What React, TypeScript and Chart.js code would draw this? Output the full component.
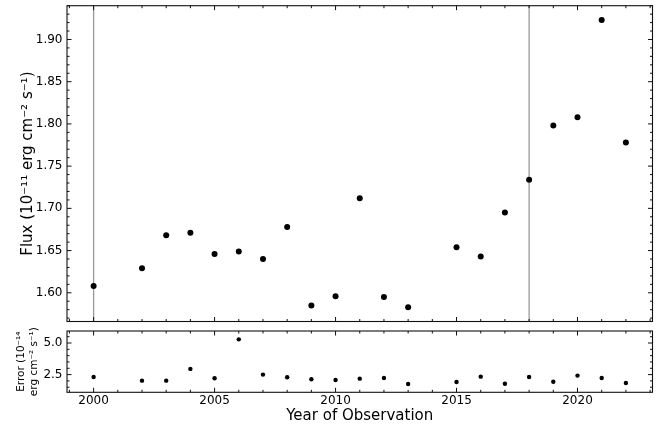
import React, { useEffect, useRef } from 'react';
import { Chart, registerables } from 'chart.js';

Chart.register(...registerables);

// ---- data ----
const years = [2000, 2002, 2003, 2004, 2005, 2006, 2007, 2008, 2009, 2010, 2011, 2012, 2013, 2015, 2016, 2017, 2018, 2019, 2020, 2021, 2022];
const flux = [1.608, 1.629, 1.668, 1.671, 1.646, 1.649, 1.640, 1.678, 1.585, 1.596, 1.712, 1.595, 1.583, 1.654, 1.643, 1.695, 1.734, 1.798, 1.808, 1.923, 1.778];
const fluxError = [2.31, 2.02, 2.02, 2.95, 2.21, 5.29, 2.50, 2.29, 2.13, 2.07, 2.18, 2.23, 1.76, 1.91, 2.34, 1.78, 2.31, 1.94, 2.42, 2.23, 1.84];
const markerYears = [2000, 2018];
const xTickLabels = [2000, 2005, 2010, 2015, 2020];
const fluxTickLabels = [1.6, 1.65, 1.7, 1.75, 1.8, 1.85, 1.9];
const errorTickLabels = [2.5, 5.0];
const errorRange = [1.1, 5.95];

const FONT = 'DejaVu Sans';

function withMargin(vals: number[]): [number, number] {
  const mn = Math.min(...vals);
  const mx = Math.max(...vals);
  const r = mx - mn;
  return [mn - 0.05 * r, mx + 0.05 * r];
}

const [xMin, xMax] = withMargin(years);
const [fMin, fMax] = withMargin(flux);

function minorValues(min: number, max: number, step: number): number[] {
  const out: number[] = [];
  const start = Math.ceil(min / step - 1e-9);
  const end = Math.floor(max / step + 1e-9);
  for (let i = start; i <= end; i++) out.push(+(i * step).toFixed(6));
  return out;
}

function makeFramePlugin(xMajor: number[], xMinorStep: number, yMajor: number[], yMinorStep: number) {
  return {
    id: 'frameTicks',
    afterDatasetsDraw(chart: any) {
      const { ctx, chartArea: a, scales } = chart;
      const xs = scales.x;
      const ys = scales.y;
      ctx.save();
      ctx.strokeStyle = '#111';
      ctx.lineWidth = 1;
      const seg = (x1: number, y1: number, x2: number, y2: number) => {
        ctx.beginPath();
        ctx.moveTo(x1, y1);
        ctx.lineTo(x2, y2);
        ctx.stroke();
      };
      const majLen = 4.5;
      const minLen = 2.5;
      const xMinor = minorValues(xs.min, xs.max, xMinorStep);
      xMinor.forEach((v) => {
        const isMaj = xMajor.some((m) => Math.abs(m - v) < 1e-6);
        const len = isMaj ? majLen : minLen;
        const px = xs.getPixelForValue(v);
        seg(px, a.bottom, px, a.bottom - len);
        seg(px, a.top, px, a.top + len);
      });
      const yMinor = minorValues(ys.min, ys.max, yMinorStep);
      yMinor.forEach((v) => {
        const isMaj = yMajor.some((m) => Math.abs(m - v) < 1e-6);
        const len = isMaj ? majLen : minLen;
        const py = ys.getPixelForValue(v);
        seg(a.left, py, a.left + len, py);
        seg(a.right, py, a.right - len, py);
      });
      ctx.lineWidth = 1.1;
      ctx.strokeRect(a.left, a.top, a.right - a.left, a.bottom - a.top);
      ctx.restore();
    },
  };
}

const vlinePlugin = {
  id: 'vlines',
  beforeDatasetsDraw(chart: any) {
    const { ctx, chartArea: a, scales } = chart;
    ctx.save();
    ctx.strokeStyle = '#9a9a9a';
    ctx.lineWidth = 1.3;
    markerYears.forEach((yr) => {
      const px = scales.x.getPixelForValue(yr);
      ctx.beginPath();
      ctx.moveTo(px, a.top);
      ctx.lineTo(px, a.bottom);
      ctx.stroke();
    });
    ctx.restore();
  },
};

const TOP_H = 326;
const BOT_H = 429 - TOP_H;

export default function App() {
  const topRef = useRef<HTMLCanvasElement>(null);
  const botRef = useRef<HTMLCanvasElement>(null);

  useEffect(() => {
    const top = new Chart(topRef.current as HTMLCanvasElement, {
      type: 'scatter',
      data: {
        datasets: [
          {
            data: years.map((x, i) => ({ x, y: flux[i] })),
            pointRadius: 3,
            pointBackgroundColor: '#000',
            pointBorderWidth: 0,
            backgroundColor: '#000',
            showLine: false,
          },
        ],
      },
      options: {
        animation: false,
        responsive: false,
        events: [],
        layout: { padding: { left: 0, right: 9.5, top: 5.7, bottom: 4.5 } },
        plugins: { legend: { display: false }, tooltip: { enabled: false } },
        scales: {
          x: {
            type: 'linear',
            display: false,
            min: xMin,
            max: xMax,
          },
          y: {
            type: 'linear',
            position: 'left',
            min: fMin,
            max: fMax,
            grid: { display: false, drawTicks: false },
            border: { display: false },
            afterBuildTicks: (s: any) => {
              s.ticks = fluxTickLabels.map((v) => ({ value: v }));
            },
            afterFit: (s: any) => {
              s.width = 67;
              s.paddingTop = 0;
              s.paddingBottom = 0;
            },
            ticks: {
              padding: 4.5,
              color: '#000',
              font: { family: FONT, size: 12 },
              callback: (v: any) => Number(v).toFixed(2),
            },
            title: {
              display: true,
              text: 'Flux (10⁻¹¹ erg cm⁻² s⁻¹)',
              color: '#000',
              font: { family: FONT, size: 15 },
              padding: { top: 19.5, bottom: 0 },
            },
          },
        },
      },
      plugins: [vlinePlugin, makeFramePlugin(xTickLabels, 1, fluxTickLabels, 0.01)],
    } as any);

    const bot = new Chart(botRef.current as HTMLCanvasElement, {
      type: 'scatter',
      data: {
        datasets: [
          {
            data: years.map((x, i) => ({ x, y: fluxError[i] })),
            pointRadius: 2.2,
            pointBackgroundColor: '#000',
            pointBorderWidth: 0,
            backgroundColor: '#000',
            showLine: false,
          },
        ],
      },
      options: {
        animation: false,
        responsive: false,
        events: [],
        layout: { padding: { left: 0, right: 9.5, top: 5, bottom: 0 } },
        plugins: { legend: { display: false }, tooltip: { enabled: false } },
        scales: {
          x: {
            type: 'linear',
            position: 'bottom',
            min: xMin,
            max: xMax,
            grid: { display: false, drawTicks: false },
            border: { display: false },
            afterBuildTicks: (s: any) => {
              s.ticks = xTickLabels.map((v) => ({ value: v }));
            },
            afterFit: (s: any) => {
              s.height = BOT_H - 66.3;
              s.paddingLeft = 0;
              s.paddingRight = 0;
            },
            ticks: {
              padding: 1.7,
              maxRotation: 0,
              autoSkip: false,
              color: '#000',
              font: { family: FONT, size: 12 },
              callback: (v: any) => String(v),
            },
            title: {
              display: true,
              text: 'Year of Observation',
              color: '#000',
              font: { family: FONT, size: 15 },
              padding: { top: 0, bottom: 3.5 },
            },
          },
          y: {
            type: 'linear',
            position: 'left',
            min: errorRange[0],
            max: errorRange[1],
            grid: { display: false, drawTicks: false },
            border: { display: false },
            afterBuildTicks: (s: any) => {
              s.ticks = errorTickLabels.map((v) => ({ value: v }));
            },
            afterFit: (s: any) => {
              s.width = 67;
              s.paddingTop = 0;
              s.paddingBottom = 0;
            },
            ticks: {
              padding: 4.5,
              color: '#000',
              font: { family: FONT, size: 12 },
              callback: (v: any) => Number(v).toFixed(1),
            },
            title: {
              display: true,
              text: ['Error (10⁻¹⁴', 'erg cm⁻² s⁻¹)'],
              color: '#000',
              font: { family: FONT, size: 10.5, lineHeight: 1.21 },
              padding: { top: 14.8, bottom: 0 },
            },
          },
        },
      },
      plugins: [makeFramePlugin(xTickLabels, 1, errorTickLabels, 0.5)],
    } as any);

    return () => {
      top.destroy();
      bot.destroy();
    };
  }, []);

  return (
    <div style={{ position: 'absolute', left: 0, top: 0, width: 662, height: 429, background: '#fff' }}>
      <canvas
        ref={topRef}
        width={662}
        height={TOP_H}
        style={{ position: 'absolute', left: 0, top: 0, width: 662, height: TOP_H }}
      />
      <canvas
        ref={botRef}
        width={662}
        height={BOT_H}
        style={{ position: 'absolute', left: 0, top: TOP_H, width: 662, height: BOT_H }}
      />
    </div>
  );
}
